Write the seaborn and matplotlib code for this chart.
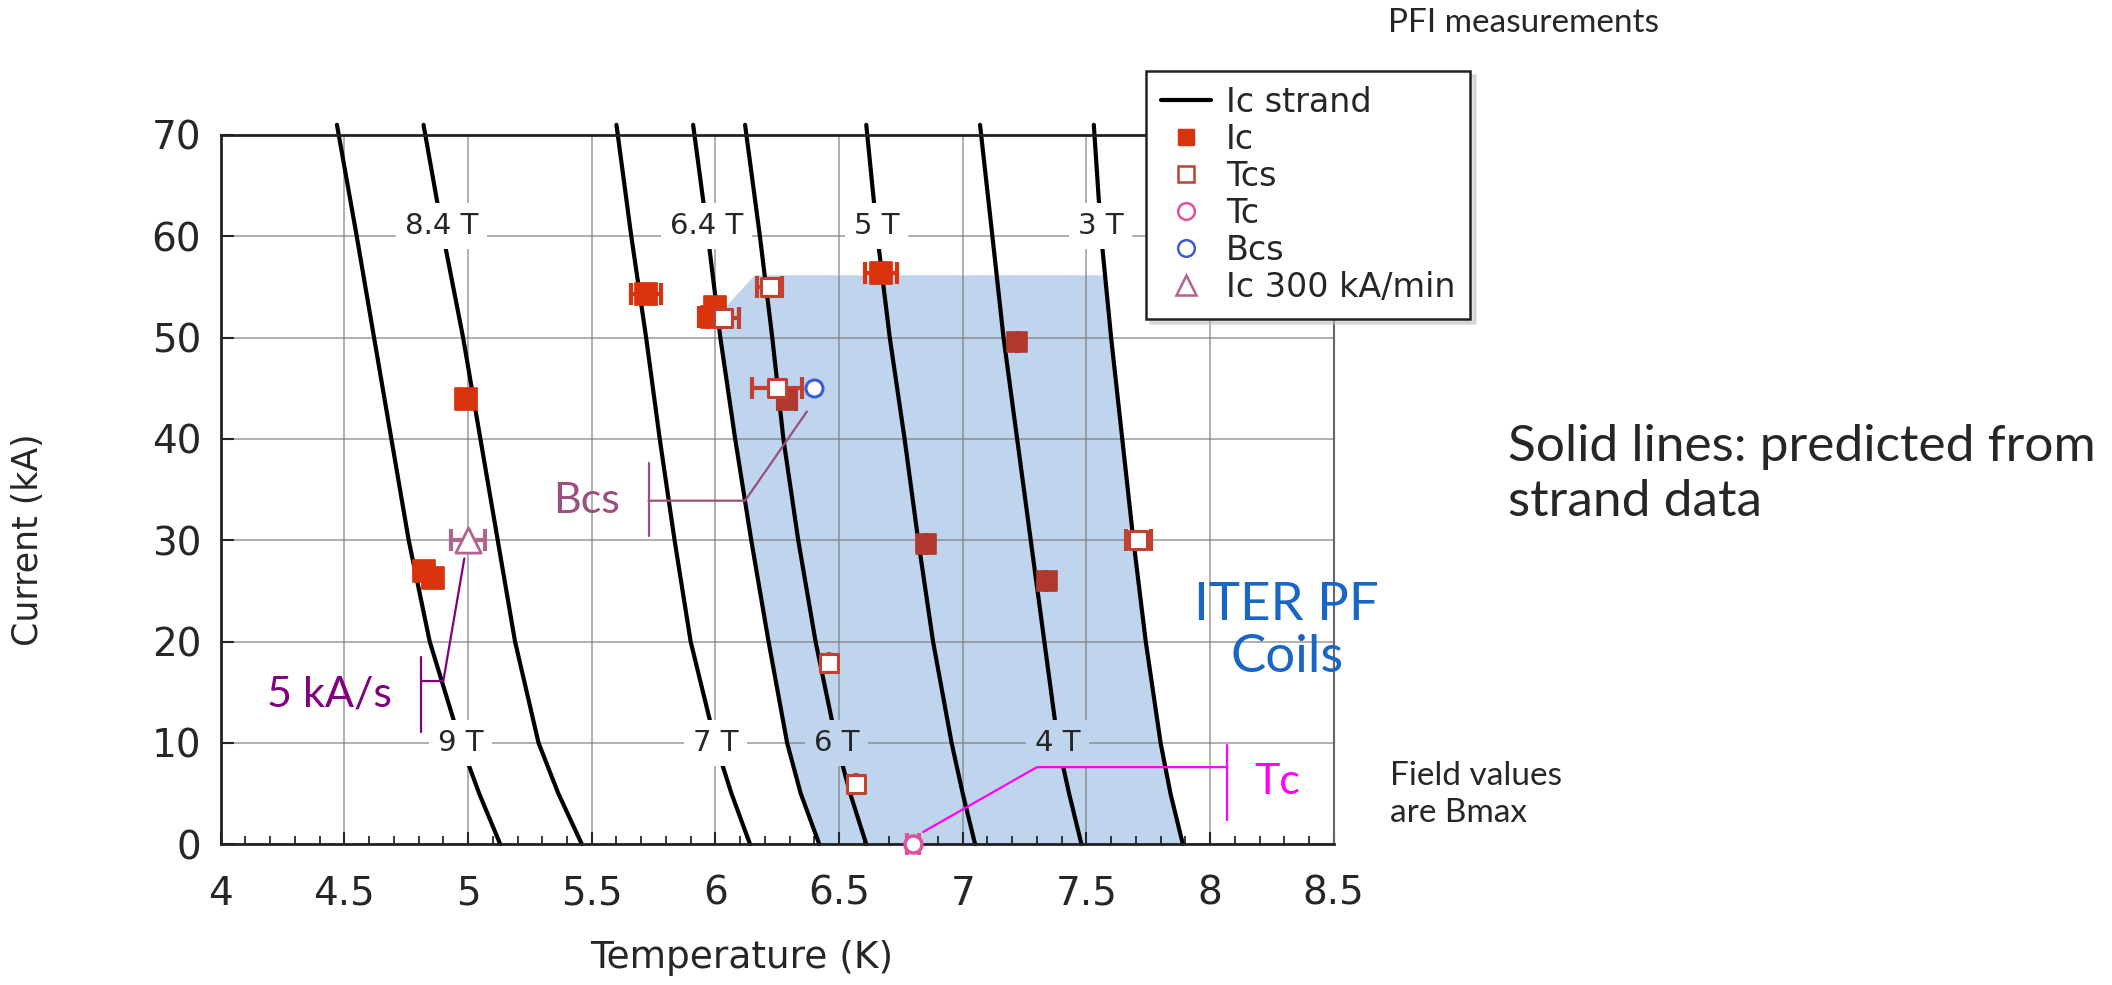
import numpy as np
import pandas as pd
import matplotlib
matplotlib.use("Agg")
import matplotlib.pyplot as plt
from matplotlib.lines import Line2D
from matplotlib.path import Path
import seaborn as sns

# --- Ic strand curves: temperature (K) read at these currents (kA) ---
current_pts = [0, 5, 10, 20, 30, 40, 50, 60, 71]
field_names = ["9 T", "8.4 T", "7 T", "6.4 T", "6 T", "5 T", "4 T", "3 T"]
t_9T = [5.13, 5.045, 4.97, 4.845, 4.76, 4.69, 4.62, 4.55, 4.47]
t_84T = [5.46, 5.365, 5.285, 5.19, 5.12, 5.05, 4.98, 4.90, 4.82]
t_7T = [6.14, 6.065, 6.00, 5.90, 5.835, 5.775, 5.72, 5.66, 5.60]
t_64T = [6.42, 6.345, 6.29, 6.215, 6.145, 6.08, 6.02, 5.97, 5.91]
t_6T = [6.61, 6.545, 6.49, 6.405, 6.335, 6.275, 6.23, 6.18, 6.12]
t_5T = [7.05, 7.00, 6.955, 6.88, 6.82, 6.765, 6.705, 6.655, 6.61]
t_4T = [7.48, 7.43, 7.385, 7.33, 7.275, 7.22, 7.165, 7.12, 7.07]
t_3T = [7.89, 7.84, 7.80, 7.74, 7.69, 7.645, 7.60, 7.56, 7.53]
label_current = [10, 61, 10, 61, 10, 61, 10, 61]

# ITER PF coils operating zone: top corner points (between 6.4 T and 3 T curves)
iter_corner_T = [6.04, 6.16, 7.575]
iter_corner_I = [53.0, 56.15, 56.15]

# --- PFI measurements ---
ic_T = [4.99, 4.82, 4.86, 5.72, 6.00, 5.985, 6.67]
ic_I = [43.9, 27.0, 26.3, 54.3, 53.0, 52.0, 56.4]
ic_err = [0, 0, 0, 0.06, 0.035, 0.05, 0.065]
ic2_T = [6.29, 7.22, 6.85, 7.34]
ic2_I = [43.8, 49.6, 29.6, 26.0]
ic2_err = [0.035, 0, 0, 0]
tcs_T = [6.22, 6.03, 6.25, 7.71, 6.46, 6.57]
tcs_I = [55.0, 51.9, 45.0, 30.0, 17.9, 5.9]
tcs_err = [0.05, 0.065, 0.1, 0.05, 0, 0]
tc_T = [6.80]
tc_I = [0.0]
tc_err = [0.025]
bcs_T = [6.40]
bcs_I = [45.0]
ramp_T = [5.00]
ramp_I = [30.0]
ramp_err = [0.07]

curves = [t_9T, t_84T, t_7T, t_64T, t_6T, t_5T, t_4T, t_3T]
rows = []
for name, tt in zip(field_names, curves):
    for t, i in zip(tt, current_pts):
        rows.append({"field": name, "T": t, "I": i})
df_curves = pd.DataFrame(rows)

sns.set_style("ticks")
plt.rcParams["font.family"] = ["DejaVu Sans"]

FILL = "#bed5ed"
C_IC = "#d8330c"
C_IC2 = "#b0382e"
C_TCS = "#c2402f"
C_TC = "#e0509e"
C_BCS = "#3b5bd6"
C_RAMP = "#b0648f"
CAL = "Lato"

fig = plt.figure(figsize=(21.12, 9.85), dpi=100)
ax = fig.add_axes([0.1045, 0.143, 0.527, 0.720])

# operating zone polygon
low = [k for k, i in enumerate(current_pts) if i <= 50]
poly_T = [t_64T[k] for k in low] + iter_corner_T + [t_3T[k] for k in low][::-1]
poly_I = [current_pts[k] for k in low] + iter_corner_I + [current_pts[k] for k in low][::-1]
ax.fill(poly_T, poly_I, color=FILL, lw=0, zorder=0.5)
zone = Path(np.column_stack([poly_T, poly_I]))

sns.lineplot(data=df_curves, x="T", y="I", units="field", estimator=None,
             sort=False, color="black", lw=3.0, ax=ax, legend=False, zorder=2)
for ln in ax.lines:
    ln.set_clip_on(False)

for name, tt, li in zip(field_names, curves, label_current):
    x = np.interp(li, current_pts, tt)
    bg = FILL if zone.contains_point((x, li)) else "white"
    ax.text(x, li, name, ha="center", va="center", fontsize=21, zorder=3,
            bbox=dict(boxstyle="square,pad=0.3", fc=bg, ec="none"))

ekw = dict(ls="none", elinewidth=3, capsize=8, capthick=3, zorder=4)
ax.errorbar(ic_T, ic_I, xerr=ic_err, color=C_IC, **ekw)
ax.errorbar(ic2_T, ic2_I, xerr=ic2_err, color=C_IC2, **ekw)
ax.errorbar(tcs_T, tcs_I, xerr=tcs_err, color=C_TCS, **ekw)
ax.errorbar(ramp_T, ramp_I, xerr=ramp_err, color=C_RAMP, **ekw)
eb = ax.errorbar(tc_T, tc_I, xerr=tc_err, color=C_TC, **ekw)
for art in eb.lines[1] + eb.lines[2]:
    art.set_clip_on(False)

sns.scatterplot(x=ic_T, y=ic_I, marker="s", s=240, color=C_IC, edgecolor=C_IC, ax=ax, zorder=5)
sns.scatterplot(x=ic2_T, y=ic2_I, marker="s", s=220, color=C_IC2, edgecolor=C_IC2, ax=ax, zorder=5)
sns.scatterplot(x=tcs_T, y=tcs_I, marker="s", s=160, color="white", edgecolor=C_TCS, linewidth=2.2, ax=ax, zorder=5)
sns.scatterplot(x=bcs_T, y=bcs_I, marker="o", s=150, color="white", edgecolor=C_BCS, linewidth=2.2, ax=ax, zorder=5)
sns.scatterplot(x=ramp_T, y=ramp_I, marker="^", s=330, color="white", edgecolor=C_RAMP, linewidth=2.0, ax=ax, zorder=5)
sns.scatterplot(x=tc_T, y=tc_I, marker="o", s=150, color="white", edgecolor=C_TC, linewidth=2.5, ax=ax, zorder=6)
for coll in ax.collections:
    coll.set_clip_on(False)

ax.set_xlim(4, 8.5)
ax.set_ylim(0, 70)
ax.set_xticks(np.arange(4, 8.51, 0.5))
ax.set_xticks(np.arange(4, 8.51, 0.1), minor=True)
ax.set_yticks(np.arange(0, 71, 10))
ax.set_xticklabels(["4", "4.5", "5", "5.5", "6", "6.5", "7", "7.5", "8", "8.5"])
ax.tick_params(axis="both", which="major", direction="in", length=9, width=1.5,
               labelsize=28, top=False, right=False)
ax.tick_params(axis="x", which="major", pad=22)
ax.tick_params(axis="y", which="major", pad=14)
ax.tick_params(axis="x", which="minor", direction="in", length=6, width=1.3, top=False)
ax.grid(True, which="major", color="#7a7a7a", alpha=0.6, lw=1.4)
for side in ["left", "bottom", "top"]:
    ax.spines[side].set_color("#222222")
    ax.spines[side].set_linewidth(2)
ax.spines["right"].set_color("#666666")
ax.spines["right"].set_linewidth(1.5)
ax.set_xlabel("Temperature (K)", fontsize=27)
ax.set_ylabel("Current (kA)", fontsize=25)
ax.xaxis.set_label_coords(0.468, -0.135)
ax.yaxis.set_label_coords(-0.158, 0.43)

# annotations
lk = dict(lw=1.6, clip_on=False, zorder=6)
ax.plot([5.73, 5.73], [37.6, 30.4], color="#9b4f7f", **lk)
ax.plot([5.73, 6.12, 6.37], [33.9, 33.9, 42.7], color="#9b4f7f", **lk)
ax.text(5.48, 33.9, "Bcs", color="#9b4f7f", fontsize=31, family=CAL, ha="center", va="center")
ax.plot([4.81, 4.81], [18.5, 11.1], color="#800080", **lk)
ax.plot([4.81, 4.90, 4.985], [16.1, 16.1, 28.2], color="#800080", **lk)
ax.text(4.44, 14.8, "5 kA/s", color="#800080", fontsize=31, family=CAL, ha="center", va="center")
ax.plot([8.07, 8.07], [9.8, 2.4], color="#ff00ff", **lk)
ax.plot([8.07, 7.30, 6.84], [7.6, 7.6, 1.2], color="#ff00ff", **lk)
ax.text(8.27, 6.1, "Tc", color="#ff00ff", fontsize=31, family=CAL, ha="center", va="center")
ax.text(8.31, 21.0, "ITER PF\nCoils", color="#1a66c4", fontsize=38, family=CAL,
        ha="center", va="center", linespacing=1.15)

handles = [
    Line2D([], [], color="black", lw=3, label="Ic strand"),
    Line2D([], [], color=C_IC, marker="s", ls="none", ms=12, label="Ic"),
    Line2D([], [], color=C_TCS, marker="s", ls="none", ms=12, mfc="white", mew=1.8, label="Tcs"),
    Line2D([], [], color=C_TC, marker="o", ls="none", ms=12, mfc="white", mew=1.8, label="Tc"),
    Line2D([], [], color=C_BCS, marker="o", ls="none", ms=12, mfc="white", mew=1.8, label="Bcs"),
    Line2D([], [], color=C_RAMP, marker="^", ls="none", ms=15, mfc="white", mew=1.8, label="Ic 300 kA/min"),
]
leg = ax.legend(handles=handles, loc="upper left", bbox_to_anchor=(0.5426, 0.928),
                bbox_transform=fig.transFigure, fontsize=24, frameon=True, fancybox=False,
                shadow={"ox": 3, "oy": -3, "color": "0.75"}, borderpad=0.45,
                labelspacing=0.12, handlelength=1.5, handletextpad=0.45, borderaxespad=0)
leg.get_frame().set_edgecolor("#222222")
leg.get_frame().set_linewidth(1.8)
leg.set_zorder(10)

fig.text(0.7215, 0.977, "PFI measurements", ha="center", va="center", fontsize=24, family=CAL)
fig.text(0.714, 0.518, "Solid lines: predicted from\nstrand data", ha="left", va="center",
         fontsize=37, family=CAL, linespacing=1.25)
fig.text(0.658, 0.193, "Field values\nare Bmax", ha="left", va="center",
         fontsize=24, family=CAL, linespacing=1.3)

fig.savefig("out.png", dpi=100)
